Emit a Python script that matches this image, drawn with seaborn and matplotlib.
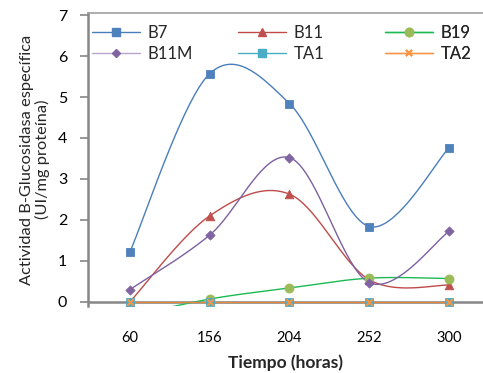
import numpy as np
import pandas as pd
import matplotlib
matplotlib.use("Agg")
import matplotlib.pyplot as plt
import seaborn as sns
from matplotlib.lines import Line2D

# ---- data ----
categories = ["60", "156", "204", "252", "300"]
B7 = [1.22, 5.57, 4.84, 1.84, 3.76]
B11 = [0.0, 2.10, 2.63, 0.54, 0.41]
B19 = [-0.35, 0.07, 0.34, 0.58, 0.57]
B11M = [0.30, 1.63, 3.52, 0.47, 1.72]
TA1 = [0.0, 0.0, 0.0, 0.0, 0.0]
TA2 = [0.0, 0.0, 0.0, 0.0, 0.0]
series_names = ["B7", "B11", "B19", "B11M", "TA1", "TA2"]
series_values = [B7, B11, B19, B11M, TA1, TA2]

line_colors = {"B7": "#4A7EBB", "B11": "#BE4B48", "B19": "#1DB954", "B11M": "#7D60A0",
               "TA1": "#4BACC6", "TA2": "#E8853E"}
legend_line_colors = {"B7": "#4A7EBB", "B11": "#BE4B48", "B19": "#1DB954", "B11M": "#B7A6CC",
                      "TA1": "#4BACC6", "TA2": "#F79646"}
marker_colors = {"B7": "#4F81BD", "B11": "#C0504D", "B19": "#9BBB59", "B11M": "#8064A2",
                 "TA1": "#4BACC6", "TA2": "#F79646"}
markers = {"B7": "s", "B11": "^", "B19": "o", "B11M": "D", "TA1": "s", "TA2": "x"}
msizes = {"B7": 40, "B11": 38, "B19": 42, "B11M": 22, "TA1": 38, "TA2": 22}


def smooth(y, n=40):
    """Excel-like smoothed line (Catmull-Rom / cubic Hermite) in category units."""
    y = np.asarray(y, float)
    x = np.arange(len(y), dtype=float)
    xs, ys = [], []
    for i in range(len(y) - 1):
        y0 = y[i - 1] if i > 0 else y[i]
        x0 = x[i - 1] if i > 0 else x[i]
        y3 = y[i + 2] if i + 2 < len(y) else y[i + 1]
        x3 = x[i + 2] if i + 2 < len(y) else x[i + 1]
        m1y = (y[i + 1] - y0) / 2
        m2y = (y3 - y[i]) / 2
        m1x = (x[i + 1] - x0) / 2
        m2x = (x3 - x[i]) / 2
        t = np.linspace(0, 1, n)
        h00 = 2 * t**3 - 3 * t**2 + 1
        h10 = t**3 - 2 * t**2 + t
        h01 = -2 * t**3 + 3 * t**2
        h11 = t**3 - t**2
        xs.append(h00 * x[i] + h10 * m1x + h01 * x[i + 1] + h11 * m2x)
        ys.append(h00 * y[i] + h10 * m1y + h01 * y[i + 1] + h11 * m2y)
    return np.concatenate(xs), np.concatenate(ys)


rows_curve, rows_pts = [], []
for name, vals in zip(series_names, series_values):
    xs, ys = smooth(vals)
    for k, (a, b) in enumerate(zip(xs, ys)):
        rows_curve.append({"serie": name, "x": a, "y": b, "order": k})
    for i, v in enumerate(vals):
        rows_pts.append({"serie": name, "x": i, "y": v})
curves = pd.DataFrame(rows_curve)
pts = pd.DataFrame(rows_pts)

sns.set_theme(style="white")
plt.rcParams["font.family"] = ["Lato", "DejaVu Sans"]

fig = plt.figure(figsize=(4.83, 3.73), dpi=100)
ax = fig.add_axes([88 / 483, (373 - 306) / 373, 1 - 88 / 483, (306 - 13) / 373])

axis_grey = "#868686"
ax.axhline(0, color=axis_grey, lw=1.8, zorder=1)

for name in series_names:
    c = curves[curves.serie == name]
    sns.lineplot(data=c, x="x", y="y", sort=False, estimator=None, ax=ax,
                 color=line_colors[name], lw=1.0, zorder=3, legend=False)
    p = pts[pts.serie == name]
    sns.scatterplot(data=p, x="x", y="y", marker=markers[name], s=msizes[name],
                    color=marker_colors[name], edgecolor=marker_colors[name],
                    linewidth=1.5 if name == "TA2" else 0.6, ax=ax, zorder=4,
                    legend=False, clip_on=True)

ax.set_xlim(-0.525, 4.425)
ax.set_ylim(-0.1, 7.05)
ax.set_xticks(range(len(categories)))
ax.set_xticklabels(categories)
ax.set_yticks(range(0, 8))
ax.tick_params(axis="x", length=0, pad=18, labelsize=10.5, colors="black")
ax.tick_params(axis="y", length=6, width=1.2, color=axis_grey, direction="out",
               pad=9, labelsize=11.5, left=True, labelcolor="black")

for s in ["right", "bottom"]:
    ax.spines[s].set_visible(False)
ax.spines["left"].set_color(axis_grey)
ax.spines["left"].set_linewidth(1.8)
ax.spines["top"].set_color("#A0A0A0")
ax.spines["top"].set_linewidth(1.2)

ax.set_xlabel("Tiempo (horas)", fontsize=12.5, fontweight="bold", labelpad=7)
ax.set_ylabel("Actividad B-Glucosidasa específica\n(UI/mg proteína)", fontsize=11.8,
              linespacing=1.1)
ax.yaxis.set_label_coords(-0.096, 0.5)


def handle(n):
    return Line2D([0], [0], color=legend_line_colors[n], lw=1.0, marker=markers[n],
                  markersize=6 if n not in ("B11M", "TA2") else 4.5,
                  markeredgewidth=1.5 if n == "TA2" else 1.0,
                  markerfacecolor=marker_colors[n], markeredgecolor=marker_colors[n])


columns = [["B7", "B11M"], ["B11", "TA1"], ["B19", "TA2"]]
col_x = [92, 238, 385]
for names, px in zip(columns, col_x):
    leg = ax.legend([handle(n) for n in names], names, loc="upper left",
                    bbox_to_anchor=((px - 88) / 395, 0.958), numpoints=1,
                    frameon=False, fontsize=12, handlelength=2.9, handletextpad=0.42,
                    labelspacing=0.3, borderpad=0, borderaxespad=0)
    ax.add_artist(leg)

fig.savefig("out.png", dpi=100)
